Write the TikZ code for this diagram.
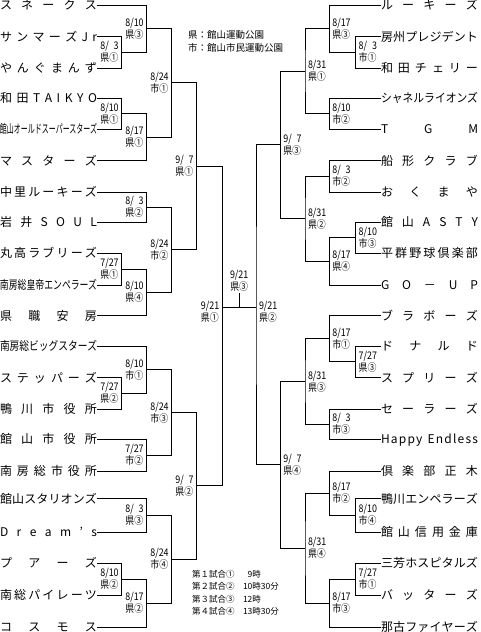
\documentclass[tikz,border=0pt]{standalone}
\usepackage{fontspec}
\setmainfont{Noto Sans CJK JP}
\newfontfamily\labfont[FakeStretch=0.85]{Noto Sans CJK JP}
\usetikzlibrary{calc}
\ExplSyntaxOn
\box_new:N \l_tn_box
\NewDocumentCommand\tn{m}{
  \hbox_set:Nn \l_tn_box {#1}
  \dim_compare:nNnTF {\box_wd:N \l_tn_box} > {97pt}
   {
     \box_resize_to_wd_and_ht:Nnn \l_tn_box {97pt} {\box_ht:N \l_tn_box}
     \box_use:N \l_tn_box
   }
   {
     \hbox_to_wd:nn {97pt} { \hfilneg \tl_map_inline:nn {#1} { \hfil ##1 } }
   }
}
\ExplSyntaxOff
\newcommand\lmatch[5]{%
  \path ($(#2)!.5!(#3)$) coordinate (#1tmp);
  \coordinate (#1) at (#1tmp -| #4);
  \draw[bl] (#2) -| (#1) |- (#3);
  \node[lab, anchor=east] (#1lab) at ($(#1)+(-3,0)$) {#5};
}
\newcommand\rmatch[5]{%
  \path ($(#2)!.5!(#3)$) coordinate (#1tmp);
  \coordinate (#1) at (#1tmp -| #4);
  \draw[bl] (#2) -| (#1) |- (#3);
  \node[lab, anchor=west] (#1lab) at ($(#1)+(3,0)$) {#5};
}
\begin{document}
\begin{tikzpicture}[x=1pt,y=-1pt,
  bl/.style={draw=black, line width=1pt},
  team/.style={inner sep=0pt, outer sep=0pt, font=\fontsize{12}{12}\selectfont, text height=10.3pt, text depth=1.3pt},
  lab/.style={inner sep=0pt, outer sep=0pt, font=\labfont\fontsize{10.5}{12}\selectfont, align=left},
  leg/.style={inner sep=0pt, outer sep=0pt, anchor=west}]
\useasboundingbox (0,0) rectangle (480,632);
% level coordinates
\coordinate (xL0) at (121.7,0);
\coordinate (xL1) at (146.7,0);
\coordinate (xL2) at (171.7,0);
\coordinate (xL3) at (196.7,0);
\coordinate (xR0) at (355.7,0);
\coordinate (xR1) at (329.3,0);
\coordinate (xR2) at (305,0);
\coordinate (xR3) at (280.3,0);
% left teams
\node[team, anchor=east] (lt1) at (97,5) {\tn{スネークス}};
\node[team, anchor=east] (lt2) at (97,36.5) {\tn{サンマーズJr}};
\node[team, anchor=east] (lt3) at (97,68) {\tn{やんぐまんず}};
\node[team, anchor=east] (lt4) at (97,98) {\tn{和田TAIKYO}};
\node[team, anchor=east] (lt5) at (97,129) {\tn{館山オールドスーパースターズ}};
\node[team, anchor=east] (lt6) at (97,160.5) {\tn{マスターズ}};
\node[team, anchor=east] (lt7) at (97,192) {\tn{中里ルーキーズ}};
\node[team, anchor=east] (lt8) at (97,222) {\tn{岩井SOUL}};
\node[team, anchor=east] (lt9) at (97,253) {\tn{丸高ラブリーズ}};
\node[team, anchor=east] (lt10) at (97,285) {\tn{南房総皇帝エンペラーズ}};
\node[team, anchor=east] (lt11) at (97,315.5) {\tn{県職安房}};
\node[team, anchor=east] (lt12) at (97,346) {\tn{南房総ビッグスターズ}};
\node[team, anchor=east] (lt13) at (97,377.5) {\tn{ステッパーズ}};
\node[team, anchor=east] (lt14) at (97,409) {\tn{鴨川市役所}};
\node[team, anchor=east] (lt15) at (97,439) {\tn{館山市役所}};
\node[team, anchor=east] (lt16) at (97,471) {\tn{南房総市役所}};
\node[team, anchor=east] (lt17) at (97,498.5) {\tn{館山スタリオンズ}};
\node[team, anchor=east] (lt18) at (97,532) {\tn{Dream’s}};
\node[team, anchor=east] (lt19) at (97,563) {\tn{プアーズ}};
\node[team, anchor=east] (lt20) at (97,595) {\tn{南総パイレーツ}};
\node[team, anchor=east] (lt21) at (97,627) {\tn{コスモス}};
% right teams
\node[team, anchor=west] (rt1) at (381,5) {\tn{ルーキーズ}};
\node[team, anchor=west] (rt2) at (381,36.5) {\tn{房州プレジデント}};
\node[team, anchor=west] (rt3) at (381,68) {\tn{和田チェリー}};
\node[team, anchor=west] (rt4) at (381,98) {\tn{シャネルライオンズ}};
\node[team, anchor=west] (rt5) at (381,129) {\tn{TGM}};
\node[team, anchor=west] (rt6) at (381,160.5) {\tn{船形クラブ}};
\node[team, anchor=west] (rt7) at (381,192) {\tn{おくまや}};
\node[team, anchor=west] (rt8) at (381,222) {\tn{館山ASTY}};
\node[team, anchor=west] (rt9) at (381,253) {\tn{平群野球倶楽部}};
\node[team, anchor=west] (rt10) at (381,285) {\tn{GO－UP}};
\node[team, anchor=west] (rt11) at (381,315.5) {\tn{ブラボーズ}};
\node[team, anchor=west] (rt12) at (381,346) {\tn{ドナルド}};
\node[team, anchor=west] (rt13) at (381,377.5) {\tn{スプリーズ}};
\node[team, anchor=west] (rt14) at (381,409) {\tn{セーラーズ}};
\node[team, anchor=west] (rt15) at (381,439) {\tn{Happy{\ }Endless}};
\node[team, anchor=west] (rt16) at (381,471) {\tn{倶楽部正木}};
\node[team, anchor=west] (rt17) at (381,498.5) {\tn{鴨川エンペラーズ}};
\node[team, anchor=west] (rt18) at (381,532) {\tn{館山信用金庫}};
\node[team, anchor=west] (rt19) at (381,563) {\tn{三芳ホスピタルズ}};
\node[team, anchor=west] (rt20) at (381,595) {\tn{バッターズ}};
\node[team, anchor=west] (rt21) at (381,627) {\tn{那古ファイヤーズ}};
% left matches
\lmatch{mA}{lt2.east}{lt3.east}{xL0}{8/\hphantom{0}3\\県①}
\lmatch{mB}{lt1.east}{mA}{xL1}{8/10\\県③}
\lmatch{mC}{lt4.east}{lt5.east}{xL0}{8/10\\県①}
\lmatch{mD}{mC}{lt6.east}{xL1}{8/17\\県①}
\lmatch{mE}{mB}{mD}{xL2}{8/24\\市①}
\lmatch{mF}{lt7.east}{lt8.east}{xL1}{8/\hphantom{0}3\\県②}
\lmatch{mG}{lt9.east}{lt10.east}{xL0}{7/27\\県①}
\lmatch{mH}{mG}{lt11.east}{xL1}{8/10\\県④}
\lmatch{mI}{mF}{mH}{xL2}{8/24\\市②}
\lmatch{mJ}{mE}{mI}{xL3}{9/\hphantom{0}7\\県①}
\lmatch{mK}{lt13.east}{lt14.east}{xL0}{7/27\\県②}
\lmatch{mL}{lt12.east}{mK}{xL1}{8/10\\市①}
\lmatch{mM}{lt15.east}{lt16.east}{xL1}{7/27\\市②}
\lmatch{mN}{mL}{mM}{xL2}{8/24\\市③}
\lmatch{mO}{lt17.east}{lt18.east}{xL1}{8/\hphantom{0}3\\県③}
\lmatch{mP}{lt19.east}{lt20.east}{xL0}{8/10\\県②}
\lmatch{mQ}{mP}{lt21.east}{xL1}{8/17\\県②}
\lmatch{mR}{mO}{mQ}{xL2}{8/24\\市④}
\lmatch{mS}{mN}{mR}{xL3}{9/\hphantom{0}7\\県②}
% right matches
\rmatch{qa}{rt2.west}{rt3.west}{xR0}{8/\hphantom{0}3\\市①}
\rmatch{qb}{rt1.west}{qa}{xR1}{8/17\\県③}
\rmatch{qc}{rt4.west}{rt5.west}{xR1}{8/10\\市②}
\rmatch{qd}{qb}{qc}{xR2}{8/31\\県①}
\rmatch{qe}{rt6.west}{rt7.west}{xR1}{8/\hphantom{0}3\\市②}
\rmatch{qf}{rt8.west}{rt9.west}{xR0}{8/10\\市③}
\rmatch{qg}{qf}{rt10.west}{xR1}{8/17\\県④}
\rmatch{qh}{qe}{qg}{xR2}{8/31\\県②}
\rmatch{qi}{qd}{qh}{xR3}{9/\hphantom{0}7\\県③}
\rmatch{qj}{rt12.west}{rt13.west}{xR0}{7/27\\県③}
\rmatch{qk}{rt11.west}{qj}{xR1}{8/17\\市①}
\rmatch{ql}{rt14.west}{rt15.west}{xR1}{8/\hphantom{0}3\\市③}
\rmatch{qm}{qk}{ql}{xR2}{8/31\\県③}
\rmatch{qn}{rt17.west}{rt18.west}{xR0}{8/10\\市④}
\rmatch{qo}{rt16.west}{qn}{xR1}{8/17\\市②}
\rmatch{qp}{rt19.west}{rt20.west}{xR0}{7/27\\市①}
\rmatch{qq}{qp}{rt21.west}{xR1}{8/17\\市③}
\rmatch{qr}{qo}{qq}{xR2}{8/31\\県④}
\rmatch{qs}{qm}{qr}{xR3}{9/\hphantom{0}7\\県④}
% semifinals and final
\coordinate (sfL) at (222.3,307);
\coordinate (sfR) at (256,307);
\draw[bl] (mJ) -| (sfL) |- (mS);
\draw[bl] (qi) -| (sfR) |- (qs);
\draw[bl] (sfL) -- (sfR);
\coordinate (fin) at (239.2,307);
\coordinate (finT) at (239.2,293);
\draw[bl] (fin) -- (finT);
\node[lab, anchor=east] (sfLlab) at ($(sfL)+(-3,4.5)$) {9/21\\県①};
\node[lab, anchor=west] (sfRlab) at ($(sfR)+(3,4.5)$) {9/21\\県②};
\node[lab, anchor=south, align=center] (finlab) at ($(finT)+(0,-2)$) {9/21\\県③};
% legends
\node[leg, font=\fontsize{9.5}{9.5}\selectfont] (leg1) at (188,35) {県：館山運動公園};
\node[leg, font=\fontsize{9.5}{9.5}\selectfont] (leg2) at (188,48) {市：館山市民運動公園};
\begin{scope}[every node/.style={leg, font=\fontsize{8.5}{8.5}\selectfont}]
\node (g1a) at (192,574) {第１試合①};
\node (g2a) at (192,586.5) {第２試合②};
\node (g3a) at (192,599) {第３試合③};
\node (g4a) at (192,611.5) {第４試合④};
\node (g1b) at (243,574) {\hphantom{1}9時};
\node (g2b) at (243,586.5) {10時30分};
\node (g3b) at (243,599) {12時};
\node (g4b) at (243,611.5) {13時30分};
\end{scope}
\end{tikzpicture}
\end{document}
